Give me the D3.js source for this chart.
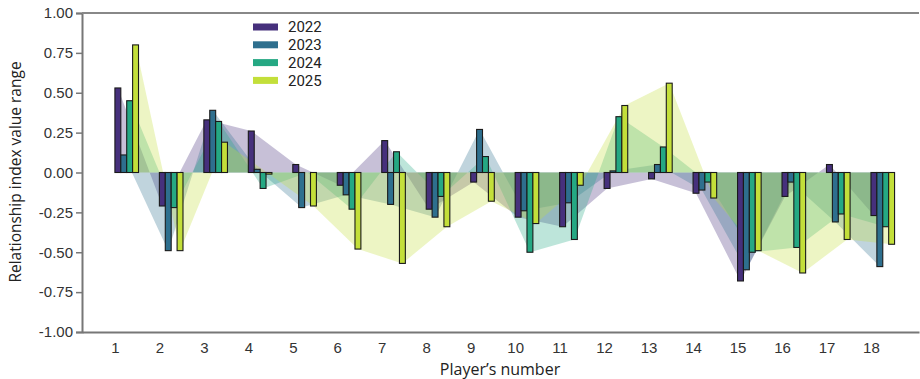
<!DOCTYPE html>
<html>
<head>
<meta charset="utf-8">
<script src="https://cdn.jsdelivr.net/npm/d3@7"></script>
<style>
  html, body { margin: 0; padding: 0; background: #fff; }
  svg { display: block; font-family: "Open Sans", sans-serif; }
</style>
</head>
<body>
<svg id="chart" width="920" height="379"></svg>
<script>
// Player numbers along the x axis
const players = [1, 2, 3, 4, 5, 6, 7, 8, 9, 10, 11, 12, 13, 14, 15, 16, 17, 18];
const years = ["2022", "2023", "2024", "2025"];

// Relationship index per player, one array per season
const v2022 = [0.53, -0.21, 0.33, 0.26, 0.05, -0.08, 0.20, -0.23, -0.06, -0.28, -0.34, -0.10, -0.04, -0.13, -0.68, -0.15, 0.05, -0.27];
const v2023 = [0.11, -0.49, 0.39, 0.02, -0.22, -0.14, -0.20, -0.28, 0.27, -0.24, -0.19, 0.01, 0.05, -0.11, -0.61, -0.06, -0.31, -0.59];
const v2024 = [0.45, -0.22, 0.32, -0.10, 0.00, -0.23, 0.13, -0.15, 0.10, -0.50, -0.42, 0.35, 0.16, -0.06, -0.50, -0.47, -0.26, -0.34];
const v2025 = [0.80, -0.49, 0.19, -0.01, -0.21, -0.48, -0.57, -0.34, -0.18, -0.32, -0.08, 0.42, 0.56, -0.16, -0.49, -0.63, -0.42, -0.45];

const yTicks = [-1.00, -0.75, -0.50, -0.25, 0.00, 0.25, 0.50, 0.75, 1.00];

const seriesValues = [v2022, v2023, v2024, v2025];
const colors = ["#46307c", "#2e6f8e", "#25a883", "#c3df3a"];

const svg = d3.select("#chart");

const x = d3.scaleLinear().domain([0.26, 19.08]).range([82, 919]);
const y = d3.scaleLinear().domain([-1, 1]).range([332, 13]);
const inner = d3.scaleBand().domain(years).range([0, 23.6]);
const color = d3.scaleOrdinal().domain(years).range(colors);

const series = years.map((yr, i) => ({
  year: yr,
  values: players.map((p, j) => ({ player: p, year: yr, value: seriesValues[i][j] }))
}));

// Shaded areas from zero to each season's values, through bar centres
const area = d3.area()
  .x(d => x(d.player) + inner(d.year) + inner.bandwidth() / 2)
  .y0(y(0))
  .y1(d => y(d.value));

svg.append("g")
  .selectAll("path")
  .data(series)
  .join("path")
  .attr("d", s => area(s.values))
  .attr("fill", s => color(s.year))
  .attr("fill-opacity", 0.3)
  .attr("stroke", "none");

// Grouped bars
svg.append("g")
  .selectAll("g")
  .data(series)
  .join("g")
  .attr("fill", s => color(s.year))
  .selectAll("rect")
  .data(s => s.values)
  .join("rect")
  .attr("x", d => x(d.player) + inner(d.year))
  .attr("width", inner.bandwidth())
  .attr("y", d => y(Math.max(0, d.value)))
  .attr("height", d => Math.abs(y(d.value) - y(0)))
  .attr("stroke", "#1a1a1a")
  .attr("stroke-width", 1.1);

// Axes
const fmt = v => d3.format(".2f")(v).replace("\u2212", "-");

const yAxis = svg.append("g")
  .attr("transform", "translate(82,0)")
  .call(d3.axisLeft(y).tickValues(yTicks).tickFormat(fmt).tickSize(6).tickPadding(3));
yAxis.select(".domain").attr("stroke", "#777").attr("stroke-width", 2);
yAxis.selectAll(".tick line").attr("stroke", "#777").attr("stroke-width", 1.5);
yAxis.selectAll("text").attr("fill", "#333").style("font-size", "15px");

const xAxis = svg.append("g")
  .attr("transform", "translate(0,332)")
  .call(d3.axisBottom(x).tickValues(players).tickFormat(d3.format("d")).tickSize(0).tickPadding(10));
xAxis.select(".domain").attr("stroke", "#777").attr("stroke-width", 2);
xAxis.selectAll("text").attr("fill", "#333").style("font-size", "15px");

// Top frame line
svg.append("line")
  .attr("x1", 82).attr("x2", 919)
  .attr("y1", y(1)).attr("y2", y(1))
  .attr("stroke", "#888").attr("stroke-width", 2);

// Axis titles
svg.append("text")
  .attr("x", 500).attr("y", 375)
  .attr("text-anchor", "middle")
  .attr("fill", "#222")
  .style("font-size", "16px")
  .text("Player\u2019s number");

svg.append("text")
  .attr("transform", "translate(21,172) rotate(-90)")
  .attr("text-anchor", "middle")
  .attr("fill", "#222")
  .style("font-size", "15.5px")
  .text("Relationship index value range");

// Legend
const legend = svg.append("g").attr("transform", "translate(253,27)");
const item = legend.selectAll("g")
  .data(years)
  .join("g")
  .attr("transform", (d, i) => `translate(0,${i * 17.8})`);
item.append("rect")
  .attr("x", 0).attr("y", -3.5)
  .attr("width", 25).attr("height", 7)
  .attr("fill", d => color(d));
item.append("text")
  .attr("x", 35).attr("y", 0)
  .attr("dy", "0.35em")
  .attr("fill", "#222")
  .style("font-family", "Roboto, sans-serif")
  .style("font-size", "15px")
  .text(d => d);
</script>
</body>
</html>
